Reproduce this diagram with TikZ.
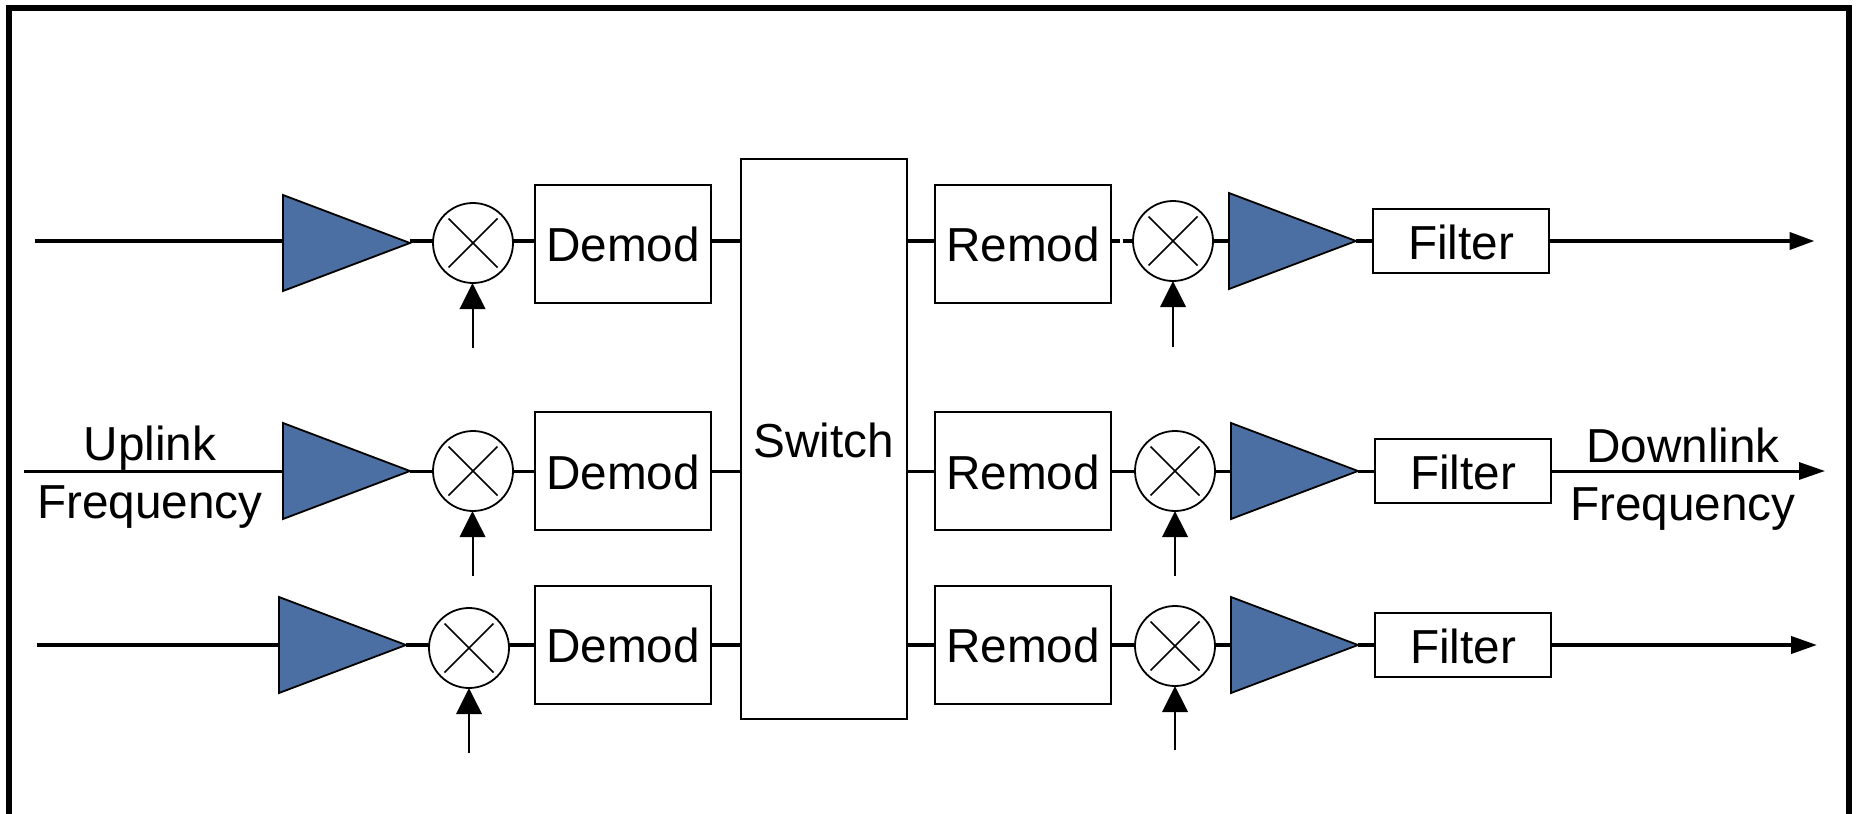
\documentclass[tikz,border=0pt]{standalone}
\usepackage{fontspec}
\setmainfont{Liberation Sans}
\usetikzlibrary{arrows.meta,shapes.geometric,backgrounds}
\definecolor{ampblue}{HTML}{4B6FA3}
\tikzset{
  blockbox/.style={draw=black,fill=white,line width=2pt,inner sep=0pt,outer sep=0pt,text height=36pt,text depth=0pt},
  demodbox/.style={blockbox,minimum width=176pt,minimum height=118pt},
  filterbox/.style={blockbox,minimum width=176.5pt,minimum height=64pt},
  amp/.style={draw=black,fill=ampblue,line width=1.8pt,isosceles triangle,isosceles triangle stretches,shape border rotate=0,minimum width=96pt,minimum height=127pt,inner sep=0pt,outer sep=0pt,anchor=lower side},
  mixer/.style={draw=black,fill=white,circle,line width=1.8pt,minimum size=80pt,inner sep=0pt,outer sep=0pt},
  crossline/.style={line width=1.5pt},
  heavy/.style={line width=4pt},
  medium/.style={line width=3pt},
  lofeed/.style={line width=2pt,-{Triangle[length=26pt,width=25.5pt]}},
  label/.style={anchor=base,inner sep=0pt,outer sep=0pt},
}
\newcommand{\mixerat}[3]{%
  \node[mixer] (#1) at (#2,#3) {};
  \draw[crossline] ([shift={(-24.5,-24.5)}]#1.center) -- ([shift={(24.5,24.5)}]#1.center);
  \draw[crossline] ([shift={(-24.5,24.5)}]#1.center) -- ([shift={(24.5,-24.5)}]#1.center);
}
\begin{document}
\begin{tikzpicture}[x=1pt,y=-1pt,font=\fontsize{47.7}{54}\selectfont]
\useasboundingbox (0,0) rectangle (1856,814);
\coordinate (fa) at (8.5,814);
\coordinate (fb) at (8.5,7.5);
\coordinate (fc) at (1849,7.5);
\coordinate (fd) at (1849,814);
\draw[line width=6pt,miter limit=10] (fa) -- (fb) -- (fc) -- (fd);

% switch
\node[blockbox,minimum width=166pt,minimum height=560pt] (sw) at (823.5,439) {Switch};

% demods
\node[demodbox] (d1) at (623,243.5) {Demod};
\node[demodbox] (d2) at (623,471) {Demod};
\node[demodbox] (d3) at (623,644.5) {Demod};
% remods
\node[demodbox] (r1) at (1023,243.5) {Remod};
\node[demodbox] (r2) at (1023,471) {Remod};
\node[demodbox] (r3) at (1023,644.5) {Remod};
% filters
\node[filterbox] (f1) at (1461,241) {Filter};
\node[filterbox] (f2) at (1463,471) {Filter};
\node[filterbox] (f3) at (1463,645) {Filter};
% amplifiers
\node[amp] (a1) at (283,243) {};
\node[amp] (a2) at (283,471) {};
\node[amp] (a3) at (279,645) {};
\node[amp] (a4) at (1229,241) {};
\node[amp] (a5) at (1231,471) {};
\node[amp] (a6) at (1231,645) {};
% mixers
\mixerat{m1}{473}{243}
\mixerat{m2}{473}{471}
\mixerat{m3}{469}{648}
\mixerat{m4}{1173}{241}
\mixerat{m5}{1175}{471}
\mixerat{m6}{1175}{646}

% free ends
\coordinate (in1) at (35,241);
\coordinate (in2) at (24,471);
\coordinate (in3) at (37,645);
\coordinate (out1) at (1814.5,241);
\coordinate (out2) at (1825,471);
\coordinate (out3) at (1817,645);
\coordinate (lo1) at (472.5,348);
\coordinate (lo2) at (472.5,576);
\coordinate (lo3) at (469,753);
\coordinate (lo4) at (1173,347);
\coordinate (lo5) at (1175,576);
\coordinate (lo6) at (1175,750);

\begin{scope}[on background layer]
  \fill[white] (0,0) rectangle (1856,814);
  % top row
  \draw[heavy] (in1) -- (in1 -| a1.center);
  \draw[heavy] (a1.apex |- in1) -- (in1 -| m1.center);
  \draw[heavy] (in1 -| m1.center) -- (in1 -| d1.center);
  \draw[heavy] (in1 -| d1.center) -- (in1 -| sw.center);
  \draw[heavy] (in1 -| sw.center) -- (in1 -| r1.center);
  \draw[heavy,dash pattern=on 9pt off 2.5pt] (in1 -| r1.east) -- (in1 -| m4.west);
  \draw[heavy] (in1 -| m4.center) -- (in1 -| a4.center);
  \draw[heavy] (a4.apex) -- (f1.center);
  % middle row
  \draw[medium] (in2) -- (in2 -| a2.center);
  \draw[medium] (a2.apex) -- (m2.center);
  \draw[medium] (m2.center) -- (d2.center);
  \draw[medium] (d2.center) -- (in2 -| sw.center);
  \draw[medium] (in2 -| sw.center) -- (r2.center);
  \draw[medium] (r2.center) -- (m5.center);
  \draw[medium] (m5.center) -- (a5.center);
  \draw[medium] (a5.apex) -- (f2.center);
  % bottom row
  \draw[heavy] (in3) -- (in3 -| a3.center);
  \draw[heavy] (a3.apex) -- (in3 -| m3.center);
  \draw[heavy] (in3 -| m3.center) -- (in3 -| d3.center);
  \draw[heavy] (in3 -| d3.center) -- (in3 -| sw.center);
  \draw[heavy] (in3 -| sw.center) -- (in3 -| r3.center);
  \draw[heavy] (in3 -| r3.center) -- (in3 -| m6.center);
  \draw[heavy] (in3 -| m6.center) -- (in3 -| a6.center);
  \draw[heavy] (a6.apex) -- (f3.center);
\end{scope}

% outputs
\draw[heavy,-{Triangle[length=25pt,width=17pt]}] (f1.east) -- (out1);
\draw[medium,-{Triangle[length=26pt,width=17pt]}] (f2.east) -- (out2);
\draw[heavy,-{Triangle[length=26pt,width=17pt]}] (f3.east) -- (out3);

% local oscillator feeds
\draw[lofeed] (lo1) -- (lo1 |- m1.south);
\draw[lofeed] (lo2) -- (lo2 |- m2.south);
\draw[lofeed] (lo3) -- (lo3 |- m3.south);
\draw[lofeed] (lo4) -- (lo4 |- m4.south);
\draw[lofeed] (lo5) -- (lo5 |- m5.south);
\draw[lofeed] (lo6) -- (lo6 |- m6.south);

% labels
\node[label] (up) at (150,460) {Uplink};
\node[label] (uf) at (150,518) {Frequency};
\node[label] (dn) at (1683,462) {Downlink};
\node[label] (df) at (1683,520) {Frequency};
\end{tikzpicture}
\end{document}
